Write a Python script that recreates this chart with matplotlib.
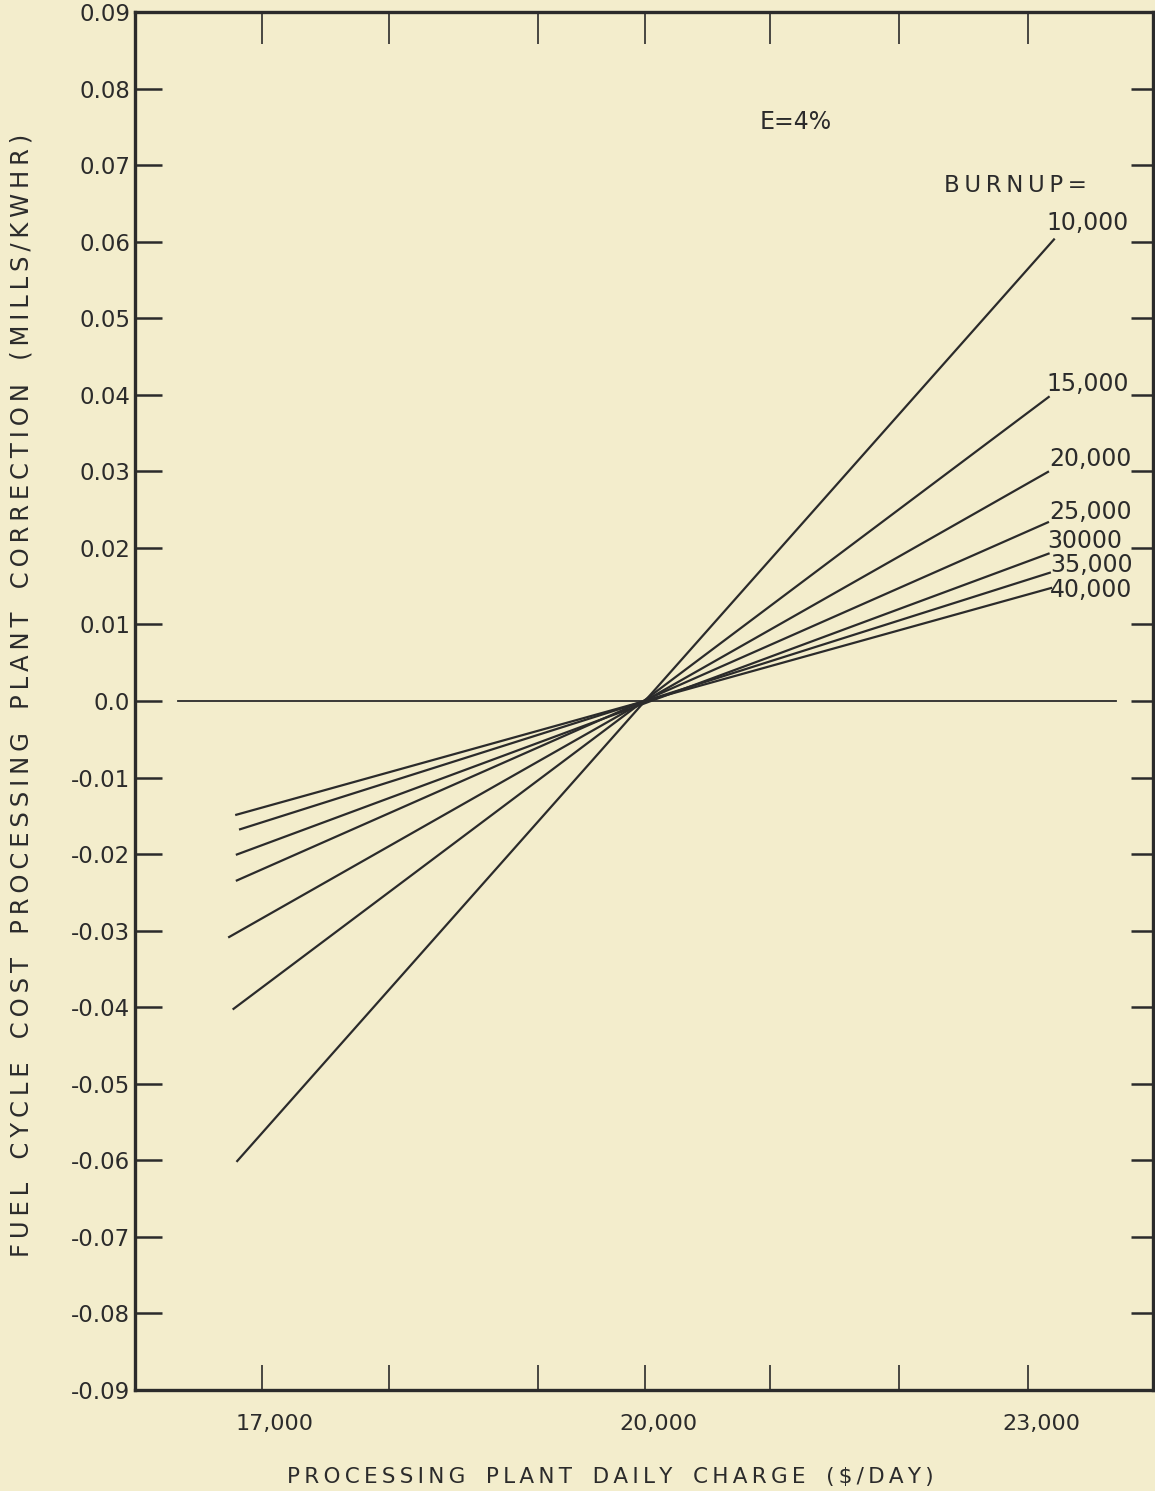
import matplotlib
matplotlib.use('Agg')
import matplotlib.pyplot as plt
from matplotlib.transforms import ScaledTranslation

# burnup curves (end points of each straight line)
burnup_labels = ['10,000', '15,000', '20,000', '25,000', '30000', '35,000', '40,000']
x_left = [16800, 16770, 16735, 16795, 16795, 16820, 16790]
y_left = [-0.0602, -0.0403, -0.0309, -0.0235, -0.0201, -0.0168, -0.0149]
x_right = [23210, 23170, 23165, 23165, 23170, 23180, 23190]
y_right = [0.0604, 0.0398, 0.0300, 0.0234, 0.0193, 0.0168, 0.0148]

# axis ticks (hand drafted, spacing not perfectly even)
x_ticks = [17000, 17995, 19162, 20000, 20979, 21989, 23000]
x_tick_labels = ['17,000', '', '', '20,000', '', '', '23,000']
y_ticks = [round(-0.09 + 0.01 * i, 2) for i in range(19)]
y_tick_labels = ['-0.09', '-0.08', '-0.07', '-0.06', '-0.05', '-0.04', '-0.03', '-0.02', '-0.01',
                 '0.0', '0.01', '0.02', '0.03', '0.04', '0.05', '0.06', '0.07', '0.08', '0.09']
zero_line_x = [16340, 23690]

# label offsets from the right end of each line (pixels)
label_dx = [-8, -3, 0, 0, -2, -1, -2]
label_dy = [16, 12, 12, 10, 12, 7, -2]

paper = '#f3edcc'
ink = '#2b2b2b'


def spaced(text, gap='   '):
    # drafting style lettering: thin space between letters, wide gaps between words
    return gap.join('\u2009'.join(w) for w in text.split(' '))


fig = plt.figure(figsize=(11.55, 14.91), dpi=100, facecolor=paper)
ax = fig.add_axes([135 / 1155, 101 / 1491, 1018 / 1155, 1378 / 1491], facecolor=paper)

for xl, yl, xr, yr in zip(x_left, y_left, x_right, y_right):
    ax.plot([xl, xr], [yl, yr], color=ink, linewidth=1.6, solid_capstyle='butt')

ax.plot(zero_line_x, [0, 0], color=ink, linewidth=1.3)

ax.set_xlim(16005, 23980)
ax.set_ylim(-0.09, 0.09)

for side in ['left', 'right', 'top', 'bottom']:
    ax.spines[side].set_linewidth(2.4)
    ax.spines[side].set_color(ink)

ax.set_xticks(x_ticks)
ax.set_xticklabels(x_tick_labels, fontsize=16, color=ink)
ax.set_yticks(y_ticks)
ax.set_yticklabels(y_tick_labels, fontsize=16.5, color=ink)

ax.tick_params(axis='x', direction='in', top=True, bottom=True, length=18, width=1.2, color=ink, pad=17)
ax.tick_params(axis='y', direction='in', left=True, right=True, length=19.5, width=1.8, color=ink, pad=3.5)

for t in ax.xaxis.get_major_ticks():
    t.tick2line.set_markersize(23)
for t in ax.yaxis.get_major_ticks():
    t.tick2line.set_markersize(16)

# tick labels sit a little to the right of their ticks on the original
shift = ScaledTranslation(13 / 100, 0, fig.dpi_scale_trans)
for lab in ax.get_xticklabels():
    lab.set_transform(lab.get_transform() + shift)

# line labels
for i, lab in enumerate(burnup_labels):
    ax.annotate(lab, xy=(x_right[i], y_right[i]), xytext=(label_dx[i] * 0.72, label_dy[i] * 0.72),
                textcoords='offset points', ha='left', va='center', fontsize=17, color=ink)

fig.text(796 / 1155, 1 - 122 / 1491, 'E=4%', fontsize=17, color=ink, ha='center', va='center')
fig.text(1015 / 1155, 1 - 186 / 1491, spaced('BURNUP='), fontsize=16.5, color=ink, ha='center', va='center')

fig.text(610 / 1155, 1 - 1477 / 1491, spaced('PROCESSING PLANT DAILY CHARGE ($/DAY)'),
         fontsize=15.5, color=ink, ha='center', va='center')
fig.text(22 / 1155, 1 - 695 / 1491, spaced('FUEL CYCLE COST PROCESSING PLANT CORRECTION (MILLS/KWHR)'),
         fontsize=17.5, color=ink, ha='center', va='center', rotation=90)

plt.savefig('out.png', facecolor=paper)
plt.close()
